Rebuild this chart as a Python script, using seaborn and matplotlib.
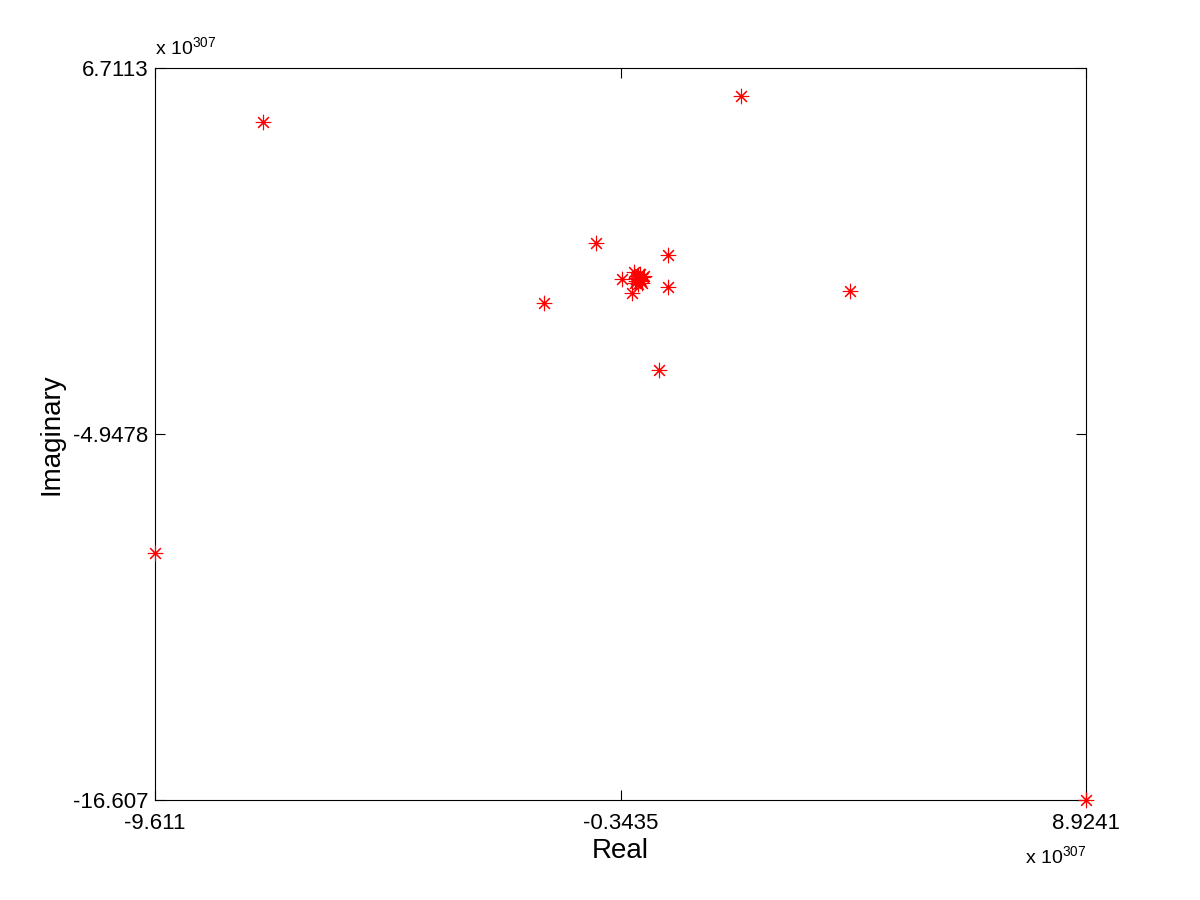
import matplotlib
matplotlib.use("Agg")
import matplotlib.pyplot as plt
import numpy as np
import pandas as pd
import seaborn as sns

# values in units of 1e307
real_part = [-7.461, 2.056, -0.831, 0.602, -0.314, -0.075, 0.125, -0.035, 0.045,
             0.005, -0.055, 0.085, -0.114, 0.602, -1.866, 4.226, 0.423, -9.611, 8.9241,
             -0.015, 0.025, 0.065, -0.035, 0.105, 0.005, 0.045]
imag_part = [4.991, 5.819, 1.136, 0.754, -0.010, 0.213, 0.085, 0.022, -0.042,
             0.085, -0.138, -0.138, -0.456, -0.265, -0.775, -0.393, -2.909, -8.739, -16.607,
             0.085, -0.011, -0.074, -0.074, 0.054, -0.170, 0.149]

x_ticks = [-9.611, -0.3435, 8.9241]
y_ticks = [-16.607, -4.9478, 6.7113]
x_tick_labels = ["-9.611", "-0.3435", "8.9241"]
y_tick_labels = ["-16.607", "-4.9478", "6.7113"]
exponent = "307"

df = pd.DataFrame({"Real": real_part, "Imaginary": imag_part})

sns.set_style("white")
plt.rcParams["font.family"] = ["Liberation Sans", "DejaVu Sans"]
plt.rcParams["mathtext.fontset"] = "custom"
plt.rcParams["mathtext.rm"] = "Liberation Sans"
plt.rcParams["text.color"] = "black"
plt.rcParams["axes.labelcolor"] = "black"
plt.rcParams["xtick.color"] = "black"
plt.rcParams["ytick.color"] = "black"

fig = plt.figure(figsize=(12, 9), dpi=100)
ax = fig.add_axes([0.1292, 0.1111, 0.7758, 0.8133])

sns.scatterplot(data=df, x="Real", y="Imaginary", ax=ax, marker=(8, 2, 0),
                color="red", s=110, linewidth=0.8, clip_on=False, zorder=3)

ax.set_xlim(x_ticks[0], x_ticks[-1])
ax.set_ylim(y_ticks[0], y_ticks[-1])
ax.set_xticks(x_ticks)
ax.set_xticklabels(x_tick_labels, fontsize=16)
ax.set_yticks(y_ticks)
ax.set_yticklabels(y_tick_labels, fontsize=16)
ax.tick_params(direction="in", length=7, width=0.8,
               top=True, right=True, bottom=True, left=True)
ax.tick_params(axis="x", pad=9)
ax.tick_params(axis="y", pad=5)
for spine in ax.spines.values():
    spine.set_color("black")
    spine.set_linewidth(0.8)

ax.set_xlabel("Real", fontsize=20, labelpad=3)
ax.set_ylabel("Imaginary", fontsize=20, labelpad=6)

ax.text(0.0, 1.012, r"x 10$^{%s}$" % exponent, transform=ax.transAxes,
        fontsize=14, ha="left", va="bottom")
ax.text(1.0, -0.062, r"x 10$^{%s}$" % exponent, transform=ax.transAxes,
        fontsize=14, ha="right", va="top")

fig.savefig("out.png", dpi=100)
